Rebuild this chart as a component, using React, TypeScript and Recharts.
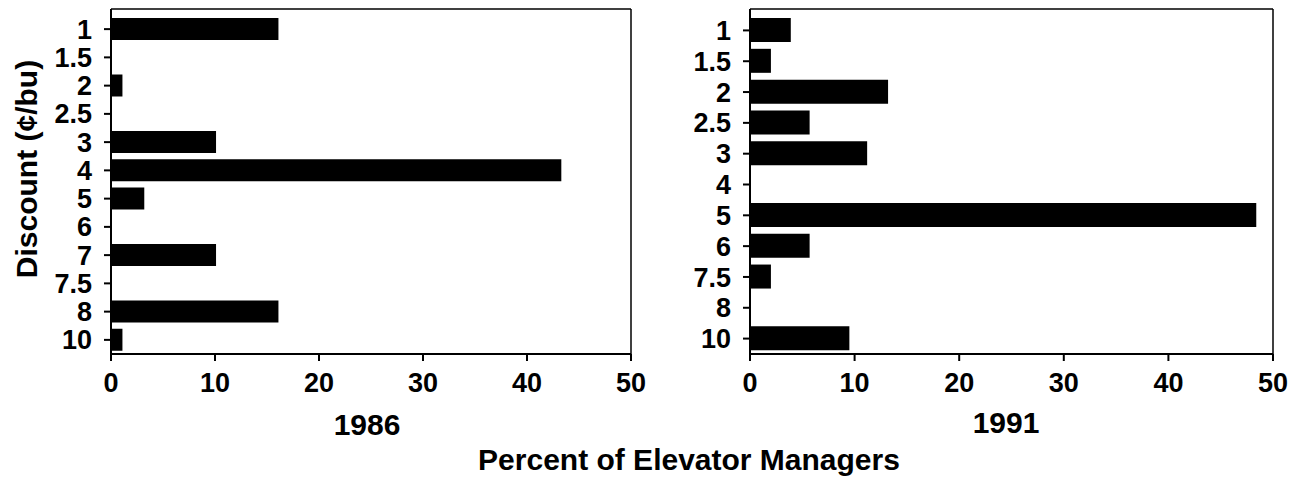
import React from 'react';
import { BarChart, Bar, XAxis, YAxis } from 'recharts';

const cats1986 = ['1', '1.5', '2', '2.5', '3', '4', '5', '6', '7', '7.5', '8', '10'];
const vals1986 = [16.1, 0, 1.1, 0, 10.1, 43.3, 3.2, 0, 10.1, 0, 16.1, 1.1];
const cats1991 = ['1', '1.5', '2', '2.5', '3', '4', '5', '6', '7.5', '8', '10'];
const vals1991 = [3.9, 2.0, 13.2, 5.7, 11.2, 0, 48.4, 5.7, 2.0, 0, 9.5];
const xTicks = [0, 10, 20, 30, 40, 50];

const FONT = '"Liberation Sans", Arial, Helvetica, sans-serif';
const tickStyle = { fontFamily: FONT, fontSize: 27, fontWeight: 700, fill: '#000' };
const axisLine = { stroke: '#000', strokeWidth: 2 };

const CHART_H = 477;
const M_TOP = 9;
const M_BOTTOM = 83;
const X_AXIS_H = 40;

type PanelCfg = {
  left: number;
  width: number;
  yWidth: number;
  marginRight: number;
  barSize: number;
};

const panel1986: PanelCfg = { left: 0, width: 660, yWidth: 111, marginRight: 29, barSize: 22 };
const panel1991: PanelCfg = { left: 640, width: 667, yWidth: 110, marginRight: 34, barSize: 24 };

function Panel({ cats, vals, cfg }: { cats: string[]; vals: number[]; cfg: PanelCfg }) {
  const data = cats.map((c, i) => ({ cat: c, v: vals[i] }));
  return (
    <div style={{ position: 'absolute', left: cfg.left, top: 0 }}>
      <BarChart
        width={cfg.width}
        height={CHART_H}
        data={data}
        layout="vertical"
        margin={{ top: M_TOP, right: cfg.marginRight, bottom: M_BOTTOM, left: 0 }}
        barCategoryGap={0}
      >
        <XAxis
          type="number"
          domain={[0, 50]}
          ticks={xTicks}
          interval={0}
          tick={tickStyle}
          tickSize={7}
          tickMargin={12}
          axisLine={axisLine}
          tickLine={{ stroke: '#000', strokeWidth: 2 }}
          height={X_AXIS_H}
          allowDataOverflow
        />
        <YAxis
          type="category"
          dataKey="cat"
          interval={0}
          tick={tickStyle}
          tickSize={7}
          tickMargin={12}
          width={cfg.yWidth}
          axisLine={axisLine}
          tickLine={{ stroke: '#000', strokeWidth: 2 }}
          padding={{ top: 6, bottom: 0 }}
        />
        <Bar dataKey="v" fill="#000" barSize={cfg.barSize} isAnimationActive={false} />
      </BarChart>
    </div>
  );
}

function FrameEdges({ cfg }: { cfg: PanelCfg }) {
  const x0 = cfg.left + cfg.yWidth;
  const x1 = cfg.left + cfg.width - cfg.marginRight;
  const y0 = M_TOP;
  const y1 = CHART_H - M_BOTTOM - X_AXIS_H;
  return (
    <g stroke="#000" strokeWidth={1.5} fill="none">
      <line x1={x0} y1={y0} x2={x1} y2={y0} />
      <line x1={x1} y1={y0} x2={x1} y2={y1} />
    </g>
  );
}

const titleStyle = { fontFamily: FONT, fontSize: 30, fontWeight: 700, fill: '#000' };

export default function App() {
  return (
    <div style={{ position: 'absolute', left: 0, top: 0, width: 1307, height: 477, background: '#fff' }}>
      <Panel cats={cats1986} vals={vals1986} cfg={panel1986} />
      <Panel cats={cats1991} vals={vals1991} cfg={panel1991} />
      <svg
        width={1307}
        height={477}
        style={{ position: 'absolute', left: 0, top: 0, pointerEvents: 'none' }}
      >
        <FrameEdges cfg={panel1986} />
        <FrameEdges cfg={panel1991} />
        <text
          x={26}
          y={169}
          transform="rotate(-90 26 169)"
          textAnchor="middle"
          dominantBaseline="central"
          style={titleStyle}
        >
          Discount (¢/bu)
        </text>
        <text x={367} y={424} textAnchor="middle" dominantBaseline="central" style={titleStyle}>
          1986
        </text>
        <text x={1006} y={422} textAnchor="middle" dominantBaseline="central" style={titleStyle}>
          1991
        </text>
        <text x={689} y={459} textAnchor="middle" dominantBaseline="central" style={titleStyle}>
          Percent of Elevator Managers
        </text>
      </svg>
    </div>
  );
}
